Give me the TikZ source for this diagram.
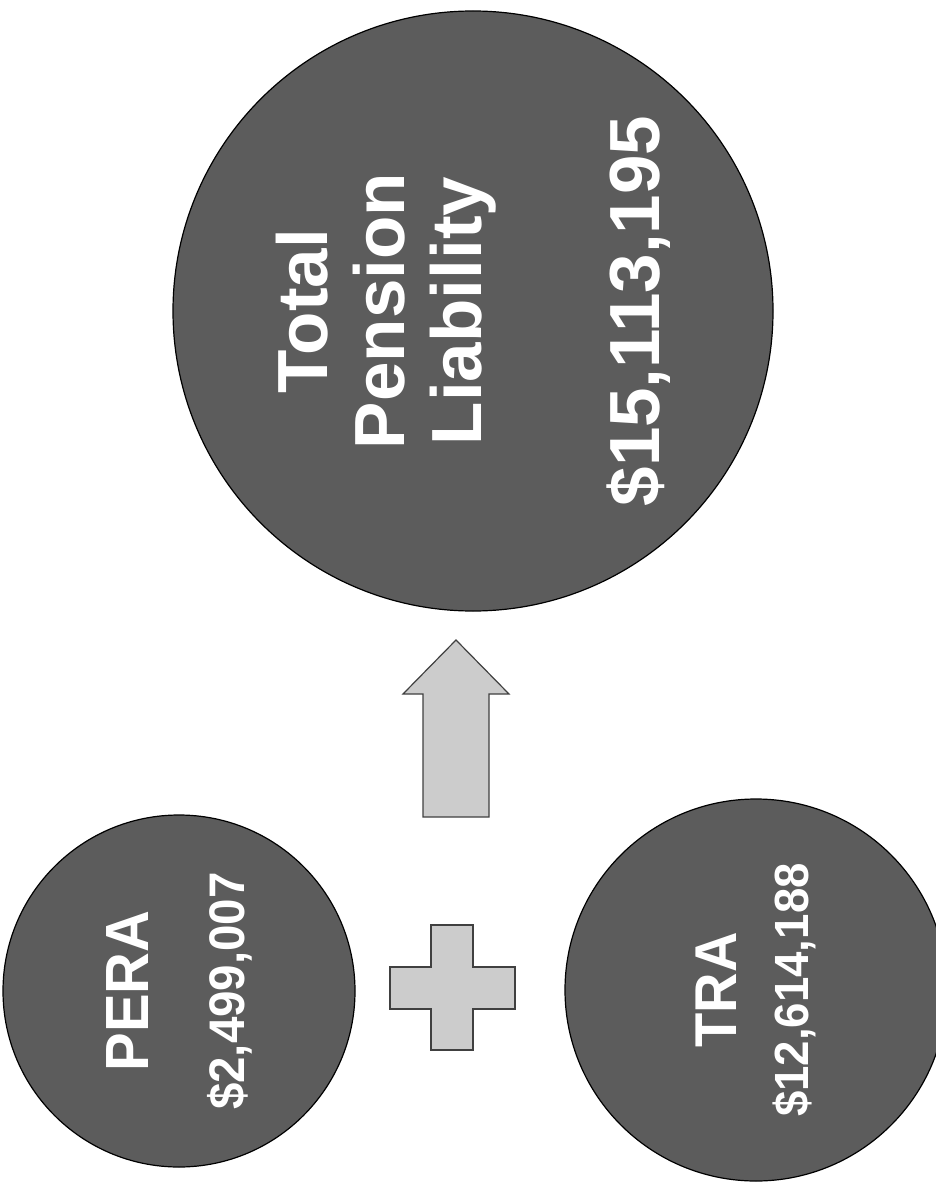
\documentclass[tikz,border=0pt]{standalone}
\usepackage{fontspec}
\setmainfont{Liberation Sans}
\newfontfamily\narrowsans{Liberation Sans}[FakeStretch=0.95]
\usepackage{tikz}
\usetikzlibrary{shapes,arrows}
\definecolor{discfill}{gray}{0.36}
\definecolor{signfill}{gray}{0.80}
\tikzset{
        disc/.style = {draw=black, line width=1.2pt, circle,
            fill=discfill, text=white, inner sep=0pt,
            rotate=90, align=center},
        sign/.style = {draw=black!75, line width=1.2pt,
            fill=signfill, line join=miter},
    }

\begin{document}
\begin{tikzpicture}[x=1pt,y=-1pt]
    \useasboundingbox (0,0) rectangle (935,1190);

    \node[disc, minimum size=600pt, font=\bfseries\fontsize{71}{77}\selectfont] (total) at (473,311)
        {Total\\Pension\\Liability\\[101pt]\$15,113,195};
    \node[disc, minimum size=352pt, font=\narrowsans\bfseries\fontsize{50}{60}\selectfont] (pera) at (179,991)
        {{\fontsize{61}{60}\selectfont PERA}\\[36pt]\$2,499,007};
    \node[disc, minimum size=382pt, font=\narrowsans\bfseries\fontsize{48}{60}\selectfont] (tra) at (756,990)
        {{\fontsize{59}{60}\selectfont TRA}\\[12pt]\$12,614,188};

    % arrow up to the total
    \draw[sign] (456,640) -- (509,694) -- (489,694) -- (489,817) -- (423,817)
        -- (423,694) -- (403,694) -- cycle;
    % plus between the two funds
    \draw[sign] (431,925) -- (473,925) -- (473,967) -- (515,967) -- (515,1009)
        -- (473,1009) -- (473,1050) -- (431,1050) -- (431,1009) -- (390,1009)
        -- (390,967) -- (431,967) -- cycle;
\end{tikzpicture}
\end{document}
